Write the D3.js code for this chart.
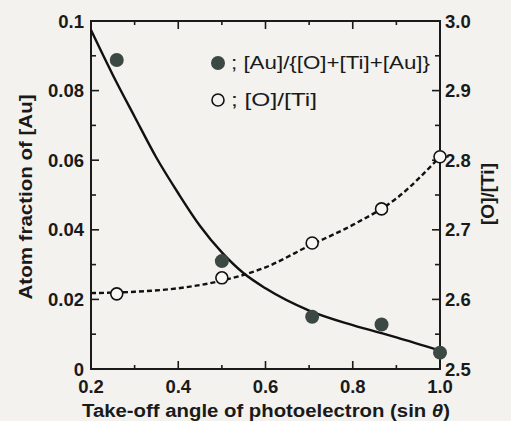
<!DOCTYPE html>
<html>
<head>
<meta charset="utf-8">
<script src="https://cdn.jsdelivr.net/npm/d3@7"></script>
<style>
  html, body { margin: 0; padding: 0; background: #f3f2ee; }
  svg { display: block; }
  text { font-family: "Liberation Sans", Arial, sans-serif; fill: #1a1a1a; }
</style>
</head>
<body>
<svg id="chart" width="511" height="421"></svg>
<script>
// measured points (x = sin θ)
const sinTheta = [0.259, 0.5, 0.707, 0.866, 1.0];
const auFraction = [0.0888, 0.0310, 0.0150, 0.0128, 0.0047];
const oTiRatio = [2.608, 2.631, 2.681, 2.730, 2.805];

// fitted curves
const fitX = [0.2, 0.25, 0.3, 0.35, 0.4, 0.45, 0.5, 0.55, 0.6, 0.7, 0.8, 0.9, 1.0];
const auFit = [0.0974, 0.0845, 0.0725, 0.0607, 0.0505, 0.0411, 0.0335, 0.0275, 0.0232, 0.0168, 0.0126, 0.0091, 0.0053];
const oTiFitX = [0.2, 0.3, 0.4, 0.5, 0.6, 0.7, 0.8, 0.9, 1.0];
const oTiFit = [2.609, 2.611, 2.616, 2.627, 2.646, 2.677, 2.707, 2.745, 2.805];

// tick labels
const xTicks = [0.2, 0.4, 0.6, 0.8, 1.0];
const xTickLabels = ['0.2', '0.4', '0.6', '0.8', '1.0'];
const yTicks = [0, 0.02, 0.04, 0.06, 0.08, 0.1];
const yTickLabels = ['0', '0.02', '0.04', '0.06', '0.08', '0.1'];
const y2Ticks = [2.5, 2.6, 2.7, 2.8, 2.9, 3.0];
const y2TickLabels = ['2.5', '2.6', '2.7', '2.8', '2.9', '3.0'];
const xMinor = [0.3, 0.5, 0.7, 0.9];
const yMinor = [0.01, 0.03, 0.05, 0.07, 0.09];
const y2Minor = [2.55, 2.65, 2.75, 2.85, 2.95];

const svg = d3.select('#chart');
const pLeft = 91, pRight = 440, pTop = 21, pBottom = 369;

const x = d3.scaleLinear().domain([0.2, 1.0]).range([pLeft, pRight]);
const y = d3.scaleLinear().domain([0, 0.1]).range([pBottom, pTop]);
const y2 = d3.scaleLinear().domain([2.5, 3.0]).range([pBottom, pTop]);

const ink = '#1a1a1a';

// frame
svg.append('rect')
  .attr('x', pLeft).attr('y', pTop)
  .attr('width', pRight - pLeft).attr('height', pBottom - pTop)
  .attr('fill', 'none').attr('stroke', ink).attr('stroke-width', 2);

// inward ticks
function ticks(vals, len, orient, scale) {
  const g = svg.append('g').attr('stroke', ink).attr('stroke-width', 1.6);
  vals.forEach(v => {
    const p = scale(v);
    if (orient === 'bottom') g.append('line').attr('x1', p).attr('x2', p).attr('y1', pBottom).attr('y2', pBottom - len);
    if (orient === 'top') g.append('line').attr('x1', p).attr('x2', p).attr('y1', pTop).attr('y2', pTop + len);
    if (orient === 'left') g.append('line').attr('y1', p).attr('y2', p).attr('x1', pLeft).attr('x2', pLeft + len);
    if (orient === 'right') g.append('line').attr('y1', p).attr('y2', p).attr('x1', pRight).attr('x2', pRight - len);
  });
}
ticks(xTicks, 8, 'bottom', x);
ticks(xMinor, 4, 'bottom', x);
ticks(xTicks, 8, 'top', x);
ticks(xMinor, 4, 'top', x);
ticks(yTicks, 8, 'left', y);
ticks(yMinor, 5, 'left', y);
ticks(y2Ticks, 8, 'right', y2);
ticks(y2Minor, 5, 'right', y2);

// tick labels
svg.selectAll('.xl').data(xTicks).enter().append('text')
  .attr('x', d => x(d)).attr('y', 393)
  .attr('text-anchor', 'middle')
  .attr('font-size', 18.5).attr('font-weight', 'bold')
  .text((d, i) => xTickLabels[i]);

svg.selectAll('.yl').data(yTicks).enter().append('text')
  .attr('x', 84).attr('y', d => y(d) + 6.5)
  .attr('text-anchor', 'end')
  .attr('font-size', 18.5).attr('font-weight', 'bold')
  .text((d, i) => yTickLabels[i]);

svg.selectAll('.y2l').data(y2Ticks).enter().append('text')
  .attr('x', 445).attr('y', d => y2(d) + 6.5)
  .attr('text-anchor', 'start')
  .attr('font-size', 18.5).attr('font-weight', 'bold')
  .text((d, i) => y2TickLabels[i]);

// axis titles
const xt = svg.append('text')
  .attr('x', 266).attr('y', 417)
  .attr('text-anchor', 'middle')
  .attr('font-size', 18).attr('font-weight', 'bold')
  .attr('textLength', 368).attr('lengthAdjust', 'spacingAndGlyphs');
xt.append('tspan').text('Take-off angle of photoelectron (sin ');
xt.append('tspan').attr('font-style', 'italic').text('θ');
xt.append('tspan').text(')');

svg.append('text')
  .attr('transform', 'translate(32,197) rotate(-90)')
  .attr('text-anchor', 'middle')
  .attr('font-size', 18).attr('font-weight', 'bold')
  .attr('textLength', 205).attr('lengthAdjust', 'spacingAndGlyphs')
  .text('Atom fraction of [Au]');

svg.append('text')
  .attr('transform', 'translate(494,194) rotate(-90)')
  .attr('text-anchor', 'middle')
  .attr('font-size', 18).attr('font-weight', 'bold')
  .attr('textLength', 62).attr('lengthAdjust', 'spacingAndGlyphs')
  .text('[O]/[Ti]');

// curves
const auLine = d3.line().x((d, i) => x(fitX[i])).y(d => y(d)).curve(d3.curveMonotoneX);
svg.append('path')
  .attr('d', auLine(auFit))
  .attr('fill', 'none').attr('stroke', '#111').attr('stroke-width', 2.4);

const oLine = d3.line().x((d, i) => x(oTiFitX[i])).y(d => y2(d)).curve(d3.curveMonotoneX);
svg.append('path')
  .attr('d', oLine(oTiFit))
  .attr('fill', 'none').attr('stroke', '#111').attr('stroke-width', 2.4)
  .attr('stroke-dasharray', '5,3');

// markers
svg.selectAll('.au').data(auFraction).enter().append('circle')
  .attr('cx', (d, i) => x(sinTheta[i])).attr('cy', d => y(d))
  .attr('r', 7).attr('fill', '#3b4843');

svg.selectAll('.oti').data(oTiRatio).enter().append('circle')
  .attr('cx', (d, i) => x(sinTheta[i])).attr('cy', d => y2(d))
  .attr('r', 6).attr('fill', '#f8f7f3').attr('stroke', '#111').attr('stroke-width', 1.6);

// legend
svg.append('circle').attr('cx', 218).attr('cy', 63).attr('r', 7).attr('fill', '#3b4843');
svg.append('text')
  .attr('x', 231).attr('y', 69)
  .attr('font-size', 18)
  .attr('textLength', 199).attr('lengthAdjust', 'spacingAndGlyphs')
  .text('; [Au]/{[O]+[Ti]+[Au]}');

svg.append('circle').attr('cx', 218).attr('cy', 100).attr('r', 6)
  .attr('fill', 'none').attr('stroke', '#111').attr('stroke-width', 1.6);
svg.append('text')
  .attr('x', 231).attr('y', 106)
  .attr('font-size', 18)
  .attr('textLength', 86).attr('lengthAdjust', 'spacingAndGlyphs')
  .text('; [O]/[Ti]');
</script>
</body>
</html>
